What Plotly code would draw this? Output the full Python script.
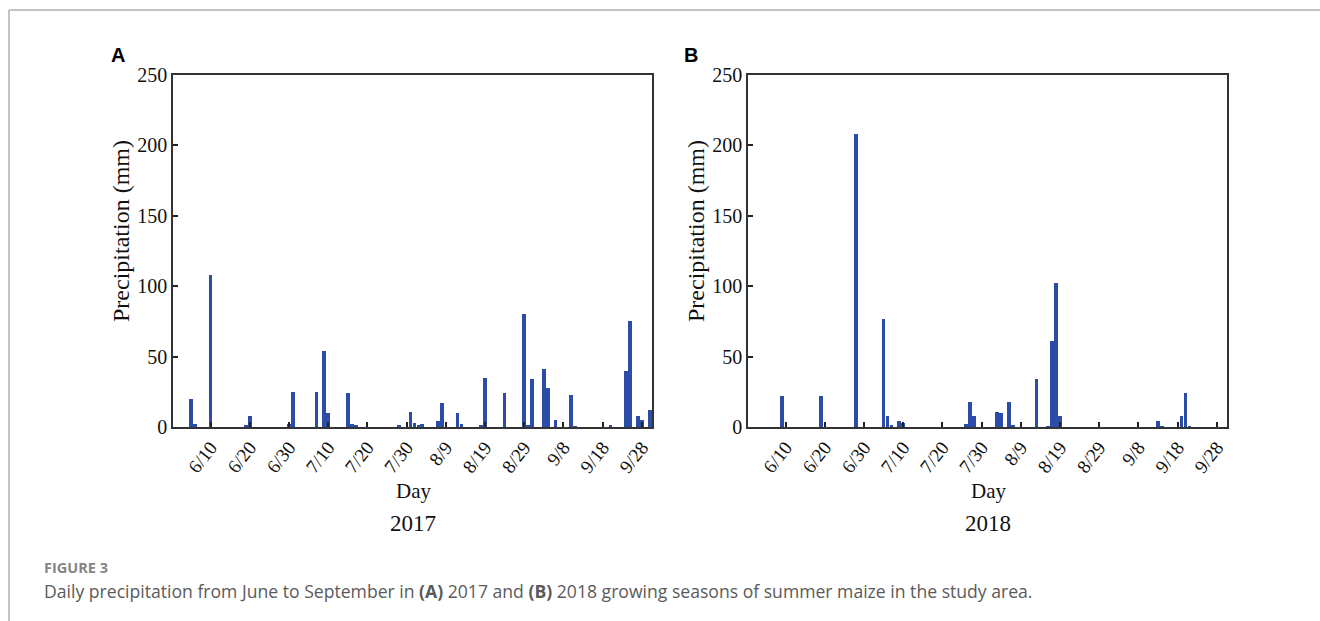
import plotly.graph_objects as go

W, H = 1320, 621

# Day index: 1 = June 1, 31 = July 1, 62 = Aug 1, 93 = Sep 1
days_2017 = [5, 6, 10, 19, 20, 30, 31, 37, 39, 40, 45, 46, 47, 58, 61, 62, 63, 64,
             68, 69, 73, 74, 79, 80, 85, 90, 91, 92, 95, 96, 98, 102, 103, 112,
             116, 117, 119, 120, 122]
precip_2017 = [20, 2, 108, 1, 8, 2, 25, 25, 54, 10, 24, 2, 1, 1, 11, 3, 1.5, 2,
               4, 17, 10, 2, 1, 35, 24, 80, 1, 34, 41, 28, 5, 23, 0.5, 1,
               40, 75, 8, 5, 12]

days_2018 = [9, 19, 28, 35, 36, 37, 39, 40, 56, 57, 58, 64, 65, 67, 68, 74, 77,
             78, 79, 80, 105, 106, 111, 112, 113]
precip_2018 = [22, 22, 208, 77, 8, 1, 4, 3, 2, 18, 8, 11, 10, 18, 1, 34, 0.5,
               61, 102, 8, 4, 0.5, 8, 24, 0.5]

tick_days = [10, 20, 30, 40, 50, 60, 70, 80, 90, 100, 110, 120]
tick_labels = ["6/10", "6/20", "6/30", "7/10", "7/20", "7/30", "8/9", "8/19",
               "8/29", "9/8", "9/18", "9/28"]
y_ticks = [0, 50, 100, 150, 200, 250]

BAR = "#2B4DA8"
SERIF = "Liberation Serif, Times New Roman, serif"
SANS = "Liberation Sans, Arial, sans-serif"
CAP = "Open Sans, sans-serif"


def px(x):
    return x / W


def py(y):
    return 1 - y / H


fig = go.Figure()
fig.add_trace(go.Bar(x=days_2017, y=precip_2017, width=0.95, marker=dict(color=BAR, line=dict(width=0)),
                     xaxis="x", yaxis="y", showlegend=False))
fig.add_trace(go.Bar(x=days_2018, y=precip_2018, width=0.95, marker=dict(color=BAR, line=dict(width=0)),
                     xaxis="x2", yaxis="y2", showlegend=False))

xcommon = dict(range=[0.4, 122.6], tickmode="array", tickvals=tick_days, ticktext=tick_labels,
               tickangle=-52, ticks="inside", ticklen=5, tickcolor="#222", tickwidth=1.5,
               showline=True, linecolor="#333", linewidth=1.5, mirror=True,
               showgrid=False, zeroline=False, automargin=False,
               tickfont=dict(family=SERIF, size=19, color="#111"))
ycommon = dict(range=[0, 250], tickmode="array", tickvals=y_ticks,
               ticks="inside", ticklen=5, tickcolor="#222", tickwidth=1.5,
               showline=True, linecolor="#333", linewidth=1.5, mirror=True,
               showgrid=False, zeroline=False, automargin=False,
               tickfont=dict(family=SERIF, size=20, color="#111"))

ydom = [py(427), py(75)]
fig.update_layout(
    width=W, height=H, autosize=False,
    margin=dict(l=0, r=0, t=0, b=0, pad=0),
    paper_bgcolor="white", plot_bgcolor="white",
    bargap=0,
    xaxis=dict(domain=[px(173), px(652)], anchor="y", **xcommon),
    yaxis=dict(domain=ydom, anchor="x", **ycommon),
    xaxis2=dict(domain=[px(748), px(1227)], anchor="y2", **xcommon),
    yaxis2=dict(domain=ydom, anchor="x2", **ycommon),
)

ann = []
def txt(x, y, t, size, family=SERIF, color="#111", angle=0, xanchor="center", yanchor="middle"):
    ann.append(dict(x=px(x), y=py(y), xref="paper", yref="paper", text=t, showarrow=False,
                    font=dict(family=family, size=size, color=color), textangle=angle,
                    xanchor=xanchor, yanchor=yanchor))

# Panel A
txt(118, 55, "<b>A</b>", 20, family=SANS, color="#000")
txt(121, 231, "Precipitation (mm)", 24, angle=-90)
txt(413, 491, "Day", 21)
txt(413, 523, "2017", 23)
# Panel B
txt(691, 55, "<b>B</b>", 20, family=SANS, color="#000")
txt(696, 231, "Precipitation (mm)", 24, angle=-90)
txt(988, 491, "Day", 21)
txt(988, 523, "2018", 23)
# Caption
txt(42, 567, "<b>FIGURE 3</b>", 14.5, family=CAP, color="#858585", xanchor="left")
txt(42, 591, "Daily precipitation from June to September in <b>(A)</b> 2017 and <b>(B)</b> 2018 "
             "growing seasons of summer maize in the study area.", 17.6, family=CAP,
    color="#5a5a5a", xanchor="left")
fig.update_layout(annotations=ann)

# Figure frame lines
fig.add_shape(type="line", xref="paper", yref="paper", x0=px(9), x1=1, y0=py(10), y1=py(10),
              line=dict(color="#c4c4c4", width=2))
fig.add_shape(type="line", xref="paper", yref="paper", x0=px(9), x1=px(9), y0=py(10), y1=0,
              line=dict(color="#c4c4c4", width=2))

fig.write_html("out.html",
               post_script="document.body.style.margin='0px';document.body.style.overflow='hidden';")
